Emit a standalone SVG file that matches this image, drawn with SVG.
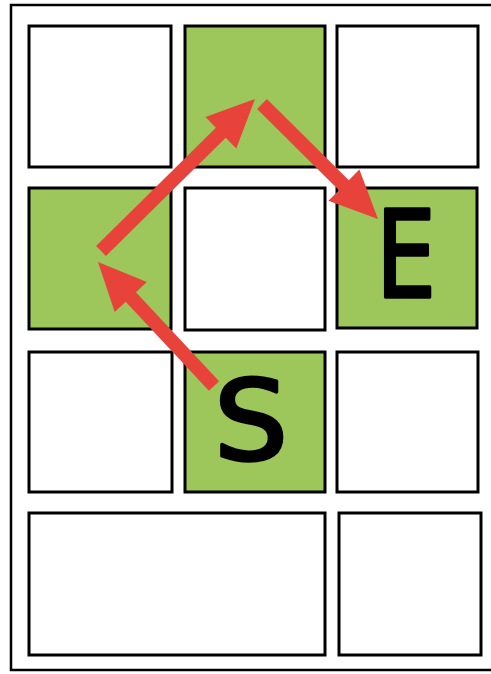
<svg xmlns="http://www.w3.org/2000/svg" width="491" height="674" viewBox="0 0 491 674">
<style>
.cell{fill:#ffffff;stroke:#000000;stroke-width:3}
.on{fill:#9dc65b}
.frame{fill:#ffffff;stroke:#000000;stroke-width:2.5}
.arrow{fill:#e8433b}
.lbl{font-family:"DejaVu Sans","Liberation Sans",sans-serif;font-weight:normal;fill:#000000;stroke:#000000;stroke-width:3.5;stroke-linejoin:round}
</style>
<rect width="491" height="674" fill="#ffffff"/>
<rect class="frame" x="11" y="5" width="490" height="665"/>
<g id="r1c1"><rect class="cell" x="29" y="26" width="142" height="141"/></g>
<g id="r1c2"><rect class="cell on" x="185" y="26" width="140" height="141"/></g>
<g id="r1c3"><rect class="cell" x="337" y="26" width="141" height="141"/></g>
<g id="r2c1"><rect class="cell on" x="29" y="188" width="142" height="141"/></g>
<g id="r2c2"><rect class="cell" x="185" y="188" width="140" height="142"/></g>
<g id="r2c3"><rect class="cell on" x="337" y="188" width="140" height="140"/>
<text class="lbl" x="376" y="297" font-size="122" textLength="60" lengthAdjust="spacingAndGlyphs">E</text></g>
<g id="r3c1"><rect class="cell" x="29" y="352" width="143" height="140"/></g>
<g id="r3c2"><rect class="cell on" x="185" y="352" width="140" height="140"/>
<text class="lbl" x="214" y="459" font-size="110" textLength="74" lengthAdjust="spacingAndGlyphs">S</text></g>
<g id="r3c3"><rect class="cell" x="337" y="352" width="141" height="140"/></g>
<g id="r4c1"><rect class="cell" x="29" y="513" width="296" height="142"/></g>
<g id="r4c2"><rect class="cell" x="339" y="513" width="142" height="142"/></g>
<g id="connectors">
<polygon class="arrow" points="219.1,381.2 135.9,292.2 146.9,282.0 98,262 114.7,312.0 125.7,301.8 208.9,390.8"/>
<polygon class="arrow" points="105.9,256.0 225.7,137.7 236.3,148.4 255,99 205.4,117.0 215.9,127.7 96.1,246.0"/>
<polygon class="arrow" points="257.1,109.0 339.0,190.2 328.4,200.8 378,219 359.4,169.6 348.8,180.2 266.9,99.0"/>
</g>
</svg>
